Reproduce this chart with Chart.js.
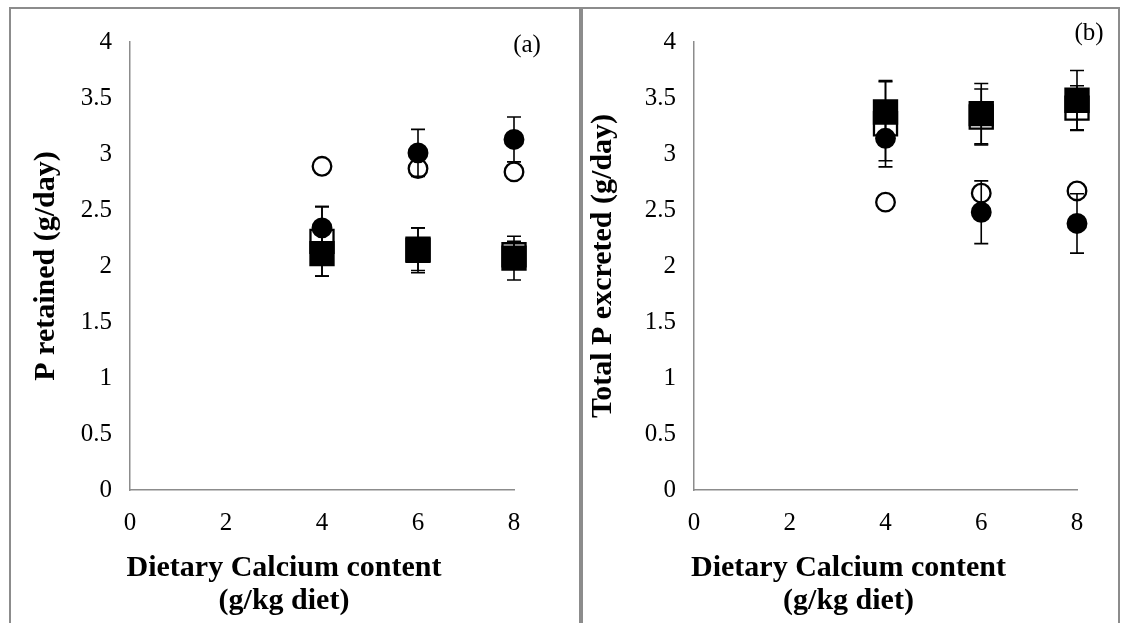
<!DOCTYPE html>
<html>
<head>
<meta charset="utf-8">
<script src="https://cdn.jsdelivr.net/npm/chart.js@4/dist/chart.umd.min.js"></script>
<style>
  body { margin: 0; background: #fff; width: 1121px; height: 623px; overflow: hidden; position: relative; }
  .panel { position: absolute; top: 7px; height: 640px; border: 2px solid #8c8c8c; box-sizing: border-box; background: #fff; }
  #pa { left: 9px; width: 572px; }
  #pb { left: 581px; width: 539px; }
  .panel canvas { position: absolute; left: 0; top: 0; }
</style>
</head>
<body>
<div class="panel" id="pa"><canvas id="chartA" width="568" height="614"></canvas></div>
<div class="panel" id="pb"><canvas id="chartB" width="535" height="614"></canvas></div>
<script>
// dietary Ca levels (g/kg diet)
var calcium = [4, 6, 8];
var xTitle = ['Dietary Calcium content', '(g/kg diet)'];

// (a) P retained, g/day
var retOpenCircle = [2.89, 2.87, 2.84];
var retFilledCircle = [2.34, 3.01, 3.13];
var retFilledCircleSE = [0.19, 0.21, 0.20];
var retOpenSquare = [2.22, 2.15, 2.10];
var retOpenSquareSE = [0.31, 0.19, 0.12];
var retFilledSquare = [2.11, 2.14, 2.07];
var retFilledSquareSE = [0.20, 0.20, 0.195];

// (b) total P excreted, g/day
var excOpenCircle = [2.57, 2.65, 2.67];
var excFilledCircle = [3.14, 2.48, 2.38];
var excFilledCircleSE = [0.20, 0.28, 0.265];
var excOpenSquare = [3.27, 3.33, 3.41];
var excOpenSquareSE = [0.385, 0.25, 0.20];
var excFilledSquare = [3.375, 3.36, 3.48];
var excFilledSquareSE = [0.27, 0.27, 0.265];

Chart.defaults.font.family = '"Liberation Serif", "Times New Roman", serif';
Chart.defaults.color = '#000';

function pts(vals) {
  return calcium.map(function(c, i) { return { x: c, y: vals[i] }; });
}

function series(vals, se, style, filled, order) {
  return {
    data: pts(vals),
    errors: se,
    pointStyle: style,
    pointRadius: style === 'rect' ? 16.3 : 9.3,
    pointBackgroundColor: filled ? '#000' : '#fff',
    pointBorderColor: '#000',
    pointBorderWidth: 2.3,
    showLine: false,
    clip: false,
    order: order
  };
}

// vertical error bars with caps, drawn through the chart's own scales
var errorBars = {
  id: 'errorBars',
  afterDatasetsDraw: function(chart) {
    var ctx = chart.ctx, xs = chart.scales.x, ys = chart.scales.y;
    ctx.save();
    ctx.strokeStyle = '#000';
    ctx.lineWidth = 1.6;
    chart.data.datasets.forEach(function(ds) {
      if (!ds.errors) return;
      ds.data.forEach(function(p, i) {
        var px = xs.getPixelForValue(p.x);
        var hi = ys.getPixelForValue(p.y + ds.errors[i]);
        var lo = ys.getPixelForValue(p.y - ds.errors[i]);
        ctx.beginPath();
        ctx.moveTo(px, hi); ctx.lineTo(px, lo);
        ctx.moveTo(px - 7, hi); ctx.lineTo(px + 7, hi);
        ctx.moveTo(px - 7, lo); ctx.lineTo(px + 7, lo);
        ctx.stroke();
      });
    });
    ctx.restore();
  }
};

// two-line x title and the panel letter
var panelText = {
  id: 'panelText',
  afterDraw: function(chart, args, opts) {
    var ctx = chart.ctx, a = chart.chartArea;
    ctx.save();
    ctx.fillStyle = '#000';
    ctx.textAlign = 'center';
    ctx.textBaseline = 'middle';
    ctx.font = 'bold 30px "Liberation Serif"';
    var cx = (a.left + a.right) / 2 + opts.titleShift;
    xTitle.forEach(function(line, i) {
      ctx.fillText(line, cx, opts.titleY + i * 33);
    });
    ctx.font = '25px "Liberation Serif"';
    ctx.fillText(opts.letter, a.right + opts.letterDx, a.top + opts.letterDy);
    ctx.restore();
  }
};

function plainNumber(v) { return String(Number(v)); }

function makeChart(id, datasets, yTitle, o) {
  return new Chart(document.getElementById(id), {
    type: 'scatter',
    data: { datasets: datasets },
    plugins: [errorBars, panelText],
    options: {
      responsive: false,
      animation: false,
      events: [],
      layout: { padding: { left: 0, right: o.padRight, top: 33, bottom: 0 } },
      plugins: {
        legend: { display: false },
        tooltip: { enabled: false },
        panelText: { titleShift: o.titleShift, titleY: 559, letter: o.letter, letterDx: o.letterDx, letterDy: o.letterDy }
      },
      scales: {
        x: {
          type: 'linear', min: 0, max: 8,
          afterFit: function(s) { s.height = 133; },
          ticks: { stepSize: 2, padding: 18, font: { size: 25 }, callback: plainNumber },
          grid: { display: true, color: 'rgba(0,0,0,0)', drawTicks: false },
          border: { display: true, color: '#8c8c8c', width: 1.5 }
        },
        y: {
          type: 'linear', min: 0, max: 4,
          afterFit: function(s) { s.width = o.yWidth; },
          ticks: { stepSize: 0.5, padding: 18, font: { size: 25 }, callback: plainNumber },
          grid: { display: true, color: 'rgba(0,0,0,0)', drawTicks: false },
          border: { display: true, color: '#8c8c8c', width: 1.5 },
          title: {
            display: true, text: yTitle,
            font: { size: 30, weight: 'bold' },
            padding: { top: o.yTitlePad, bottom: 0 }
          }
        }
      }
    }
  });
}

makeChart('chartA', [
  series(retFilledSquare, retFilledSquareSE, 'rect', true, 1),
  series(retFilledCircle, retFilledCircleSE, 'circle', true, 2),
  series(retOpenSquare, retOpenSquareSE, 'rect', false, 3),
  series(retOpenCircle, null, 'circle', false, 4)
], 'P retained (g/day)', { padRight: 65, yWidth: 119, yTitlePad: 17, titleShift: -38, letter: '(a)', letterDx: 13, letterDy: 3 });

makeChart('chartB', [
  series(excFilledSquare, excFilledSquareSE, 'rect', true, 1),
  series(excFilledCircle, excFilledCircleSE, 'circle', true, 2),
  series(excOpenSquare, excOpenSquareSE, 'rect', false, 3),
  series(excOpenCircle, null, 'circle', false, 4)
], 'Total P excreted (g/day)', { padRight: 41, yWidth: 111, yTitlePad: 2, titleShift: -37, letter: '(b)', letterDx: 12, letterDy: -9 });
</script>
</body>
</html>
